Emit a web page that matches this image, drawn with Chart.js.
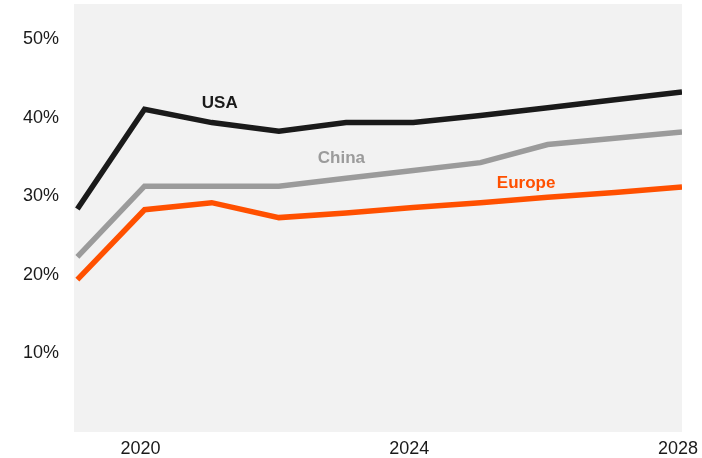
<!DOCTYPE html>
<html>
<head>
<meta charset="utf-8">
<script src="https://cdn.jsdelivr.net/npm/chart.js@4"></script>
<style>
  html, body { margin: 0; padding: 0; background: #fff; }
  #wrap { width: 702px; height: 458px; }
</style>
</head>
<body>
<div id="wrap"><canvas id="chart" width="702" height="458"></canvas></div>
<script>
"use strict";

// Données
const years  = [2019, 2020, 2021, 2022, 2023, 2024, 2025, 2026, 2027, 2028];
const usa    = [28.4, 41.1, 39.4, 38.3, 39.4, 39.4, 40.3, 41.3, 42.3, 43.3];
const china  = [22.3, 31.3, 31.3, 31.3, 32.3, 33.3, 34.3, 36.6, 37.4, 38.2];
const europe = [19.4, 28.3, 29.2, 27.3, 27.9, 28.6, 29.2, 29.9, 30.5, 31.2];
const xTicks = [2020, 2024, 2028];
const yTicks = [10, 20, 30, 40, 50];

const FONT = "'Liberation Sans', Arial, Helvetica, sans-serif";

// étiquettes des séries (ancrage en coordonnées de données)
const seriesLabels = [
    { text: "USA",    x: 2021.12, y: 41.9, color: "#1a1a1a" },
    { text: "China",  x: 2022.93, y: 34.8, color: "#9b9b9b" },
    { text: "Europe", x: 2025.68, y: 31.7, color: "#ff5000" }
];

const toPoints = arr => arr.map((v, i) => ({ x: years[i], y: v }));

const plotBg = {
    id: "plotBg",
    beforeDraw(chart) {
        const { ctx, chartArea: a } = chart;
        ctx.save();
        ctx.fillStyle = "#f2f2f2";
        ctx.fillRect(a.left, a.top, a.right - a.left, a.bottom - a.top);
        ctx.restore();
    }
};

const lineLabels = {
    id: "lineLabels",
    afterDatasetsDraw(chart) {
        const { ctx, scales } = chart;
        ctx.save();
        ctx.font = "bold 17px " + FONT;
        ctx.textAlign = "center";
        ctx.textBaseline = "middle";
        seriesLabels.forEach(l => {
            ctx.fillStyle = l.color;
            ctx.fillText(l.text, scales.x.getPixelForValue(l.x), scales.y.getPixelForValue(l.y));
        });
        ctx.restore();
    }
};

const ds = (label, data, color) => ({
    label, data: toPoints(data),
    borderColor: color, backgroundColor: color,
    borderWidth: 5.5, pointRadius: 0, tension: 0,
    borderCapStyle: "butt", borderJoinStyle: "miter"
});

new Chart(document.getElementById("chart"), {
    type: "line",
    data: {
        datasets: [
            ds("Europe", europe, "#ff5000"),
            ds("China",  china,  "#9b9b9b"),
            ds("USA",    usa,    "#1a1a1a")
        ]
    },
    options: {
        responsive: false, animation: false,
        layout: { padding: { top: 4, right: 20, left: 0, bottom: 0 } },
        plugins: { legend: { display: false }, tooltip: { enabled: false } },
        scales: {
            x: {
                type: "linear", min: 2018.95, max: 2028,
                afterBuildTicks: s => { s.ticks = xTicks.map(v => ({ value: v })); },
                afterFit: s => { s.height = 26; s.paddingLeft = 0; s.paddingRight = 0; },
                grid: { display: false, drawTicks: false },
                border: { display: false },
                ticks: {
                    color: "#1a1a1a", padding: 6, maxRotation: 0, labelOffset: -4,
                    font: { family: FONT, size: 18 },
                    callback: v => String(v)
                }
            },
            y: {
                min: 0, max: 54.5,
                afterBuildTicks: s => { s.ticks = yTicks.map(v => ({ value: v })); },
                afterFit: s => { s.width = 74; s.paddingTop = 0; s.paddingBottom = 0; },
                grid: { display: false, drawTicks: false },
                border: { display: false },
                ticks: {
                    color: "#1a1a1a", padding: 15,
                    font: { family: FONT, size: 18 },
                    callback: v => v + "%"
                }
            }
        }
    },
    plugins: [plotBg, lineLabels]
});
</script>
</body>
</html>
